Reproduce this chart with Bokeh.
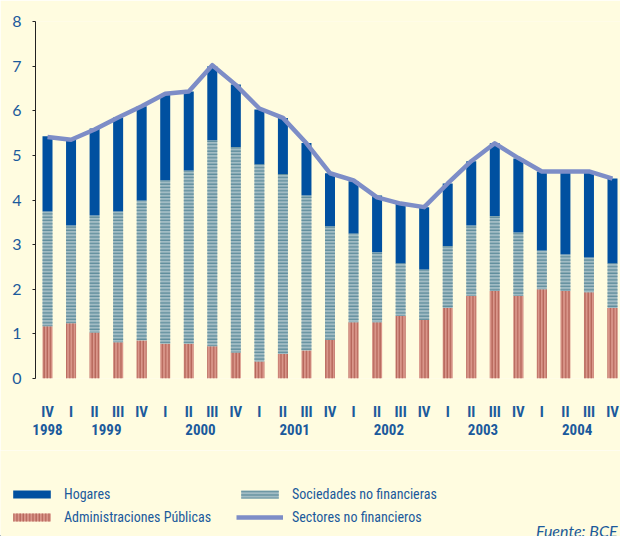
import numpy as np
from bokeh.plotting import figure
from bokeh.layouts import column
from bokeh.models import (ColumnDataSource, Range1d, LinearAxis, FixedTicker,
                          Legend, LegendItem, Label)
from bokeh.embed import file_html
from bokeh.resources import INLINE

# ---------------- data ----------------
quarters = ["IV", "I", "II", "III", "IV", "I", "II", "III", "IV", "I", "II", "III", "IV",
            "I", "II", "III", "IV", "I", "II", "III", "IV", "I", "II", "III", "IV"]
years = [1998, 1999, 1999, 1999, 1999, 2000, 2000, 2000, 2000, 2001, 2001, 2001, 2001,
         2002, 2002, 2002, 2002, 2003, 2003, 2003, 2003, 2004, 2004, 2004, 2004]
administraciones = [1.17, 1.24, 1.03, 0.81, 0.85, 0.78, 0.78, 0.72, 0.58, 0.38, 0.55, 0.63, 0.87,
                    1.26, 1.26, 1.40, 1.31, 1.58, 1.85, 1.96, 1.85, 2.00, 1.96, 1.93, 1.58]
sociedades = [2.57, 2.19, 2.62, 2.93, 3.14, 3.66, 3.88, 4.62, 4.61, 4.42, 4.03, 3.47, 2.54,
              1.99, 1.57, 1.18, 1.13, 1.39, 1.58, 1.68, 1.42, 0.87, 0.82, 0.78, 1.00]
hogares = [1.69, 1.93, 1.95, 2.11, 2.11, 1.92, 1.77, 1.66, 1.40, 1.23, 1.26, 1.18, 1.19,
           1.17, 1.27, 1.34, 1.40, 1.40, 1.44, 1.63, 1.66, 1.77, 1.86, 1.93, 1.90]
sectores = [5.41, 5.35, 5.58, 5.85, 6.10, 6.38, 6.43, 7.02, 6.58, 6.05, 5.84, 5.27, 4.60,
            4.44, 4.06, 3.92, 3.84, 4.37, 4.87, 5.27, 4.94, 4.64, 4.64, 4.64, 4.48]
y_ticks = [0, 1, 2, 3, 4, 5, 6, 7, 8]
series_names = ["Hogares", "Administraciones Públicas", "Sociedades no financieras",
                "Sectores no financieros"]
source_note = "Fuente: BCE"

# ---------------- styles ----------------
BG = "#FFFCE0"
TXT = "#1B5A9C"
C_HOG = "#0050A0"
C_SOC = "#A2BCC4"
C_SOC_H = "#5F8D9C"
C_ADM = "#D9968A"
C_ADM_H = "#B5665A"
C_LINE = "#7D8DC7"
COND = "'Liberation Sans Narrow', 'Roboto Condensed', 'DejaVu Sans Condensed', Roboto, sans-serif"

idx = np.arange(len(quarters), dtype=float)
adm = np.array(administraciones)
soc = np.array(sociedades)
hog = np.array(hogares)
src = ColumnDataSource(dict(
    x=idx,
    adm_top=adm,
    soc_bot=adm, soc_top=adm + soc,
    hog_bot=adm + soc, hog_top=adm + soc + hog,
    line=np.array(sectores),
))

bw = 0.425
ADM_STYLE = dict(fill_color=C_ADM, line_color=None, hatch_pattern="vertical_line",
                 hatch_color=C_ADM_H, hatch_scale=3.2, hatch_weight=1.4)
SOC_STYLE = dict(fill_color=C_SOC, line_color=None, hatch_pattern="horizontal_line",
                 hatch_color=C_SOC_H, hatch_scale=3.3, hatch_weight=1.3)
HOG_STYLE = dict(fill_color=C_HOG, line_color=None)
LINE_STYLE = dict(line_color=C_LINE, line_width=4.5, line_join="round")

# ---------------- main chart ----------------
p = figure(width=620, height=450, output_backend="svg", toolbar_location=None,
           x_range=Range1d(-0.51, 24.34), y_range=Range1d(0, 8),
           min_border_left=35, min_border_right=0, min_border_top=21, min_border_bottom=72,
           background_fill_color=BG, border_fill_color=BG, outline_line_color=None)
p.xaxis.visible = False
p.grid.visible = False

p.vbar(x="x", top="adm_top", bottom=0, width=bw, source=src, **ADM_STYLE)
p.vbar(x="x", top="soc_top", bottom="soc_bot", width=bw, source=src, **SOC_STYLE)
p.vbar(x="x", top="hog_top", bottom="hog_bot", width=bw, source=src, **HOG_STYLE)
p.line(x="x", y="line", source=src, **LINE_STYLE)

ya = p.yaxis[0]
ya.ticker = FixedTicker(ticks=y_ticks)
ya.axis_line_color = "#222222"
ya.major_tick_line_color = "#222222"
ya.major_tick_out = 3
ya.major_tick_in = 0
ya.minor_tick_line_color = None
ya.major_label_standoff = 11
ya.major_label_text_font = "Lato"
ya.major_label_text_font_size = "16px"
ya.major_label_text_color = TXT

# quarter row and year row, both on the bar scale
n = len(quarters)
qa = LinearAxis(ticker=FixedTicker(ticks=list(range(n))),
                major_label_overrides={i: q for i, q in enumerate(quarters)})
year_list = sorted(set(years))
year_pos = [float(np.mean([i for i in range(n) if years[i] == y])) for y in year_list]
ya2 = LinearAxis(ticker=FixedTicker(ticks=year_pos),
                 major_label_overrides={pos: str(y) for pos, y in zip(year_pos, year_list)})
for ax, so in ((qa, 24), (ya2, 0)):
    ax.axis_line_color = None
    ax.major_tick_line_color = None
    ax.minor_tick_line_color = None
    ax.major_tick_out = 0
    ax.major_tick_in = 0
    ax.major_label_standoff = so
    ax.major_label_text_font = COND
    ax.major_label_text_font_size = "15px"
    ax.major_label_text_font_style = "bold"
    ax.major_label_text_color = TXT
    p.add_layout(ax, "below")

# ---------------- legend strip ----------------
p2 = figure(width=620, height=86, output_backend="svg", toolbar_location=None,
            x_range=Range1d(0, 620), y_range=Range1d(0, 86),
            x_axis_location=None, y_axis_location=None,
            min_border_left=0, min_border_right=0, min_border_top=0, min_border_bottom=0,
            background_fill_color=BG, border_fill_color=BG, outline_line_color=None)
if "frame_align" in p2.properties():
    p2.frame_align = False
    p.frame_align = False
p2.grid.visible = False
# legend-only renderers, placed outside the visible range
hidden = ColumnDataSource(dict(x=[-1000, -990], top=[1, 1], y=[-1000, -1000]))
l_hog = p2.vbar(x="x", top="top", width=1, source=hidden, **HOG_STYLE)
l_adm = p2.vbar(x="x", top="top", width=1, source=hidden, **ADM_STYLE)
l_soc = p2.vbar(x="x", top="top", width=1, source=hidden, **SOC_STYLE)
l_line = p2.line(x="x", y="y", source=hidden, **LINE_STYLE)

legend = Legend(items=[
    LegendItem(label=series_names[0], renderers=[l_hog]),
    LegendItem(label=series_names[1], renderers=[l_adm]),
    LegendItem(label=series_names[2], renderers=[l_soc]),
    LegendItem(label=series_names[3], renderers=[l_line]),
], location=(8, 9), orientation="vertical", ncols=2,
    glyph_width=47, glyph_height=10, label_standoff=9, label_width=170, label_height=21,
    spacing=2, padding=0, margin=0, border_line_color=None, background_fill_alpha=0,
    label_text_font=COND, label_text_font_size="14px", label_text_color=TXT)
p2.add_layout(legend, "center")

p2.add_layout(Label(x=617, y=6, text=source_note, text_align="right",
                    text_baseline="alphabetic", text_font="Lato", text_font_style="italic",
                    text_font_size="16px", text_color=TXT))

layout = column(p, p2, spacing=0)
open("out.html", "w").write(file_html(layout, INLINE))
